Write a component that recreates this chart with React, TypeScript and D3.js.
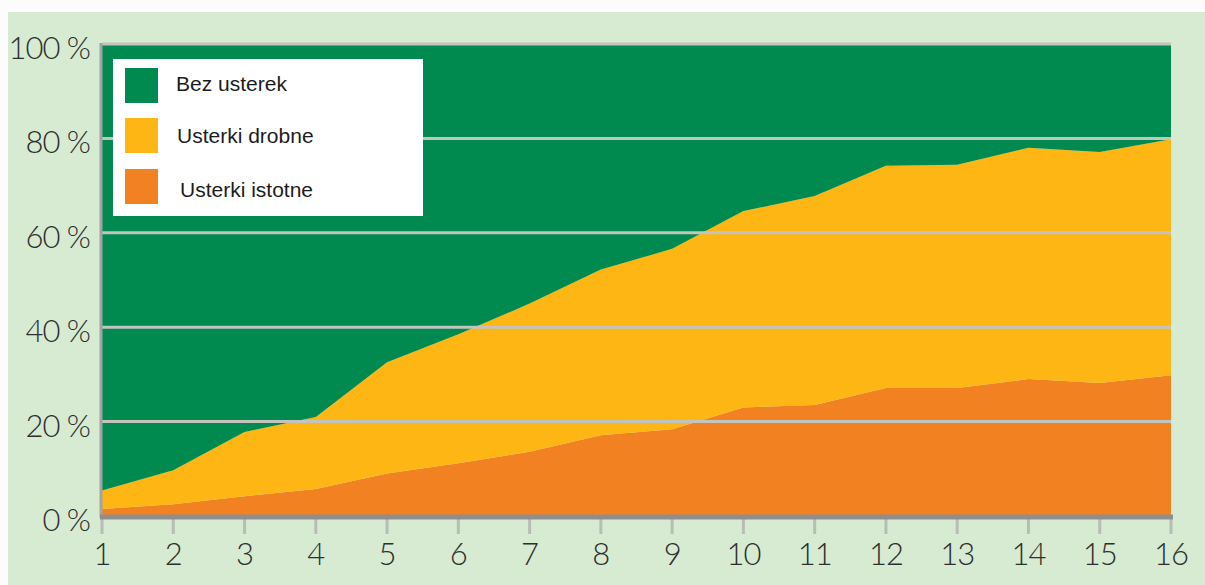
import React from "react";
import * as d3 from "d3";

const categories = [1, 2, 3, 4, 5, 6, 7, 8, 9, 10, 11, 12, 13, 14, 15, 16];
// Usterki istotne (%)
const istotne = [1.5, 2.5, 4.2, 5.7, 9.0, 11.2, 13.6, 17.1, 18.4, 23.0, 23.5, 27.1, 27.1, 29.0, 28.2, 29.8];
// Usterki drobne (%)
const drobne = [3.9, 7.2, 13.6, 15.3, 23.6, 27.3, 31.4, 35.1, 38.2, 41.6, 44.3, 47.1, 47.3, 49.0, 48.9, 50.0];
// Bez usterek (%)
const bezUsterek = [94.6, 90.3, 82.2, 79.0, 67.4, 61.5, 55.0, 47.8, 43.4, 35.4, 32.2, 25.8, 25.6, 22.0, 22.9, 20.2];
const yTicks = [0, 20, 40, 60, 80, 100];
const seriesNames = ["Usterki istotne", "Usterki drobne", "Bez usterek"];
const colors = ["#f28122", "#fdb614", "#008a4f"];

export default function App() {
  const W = 1205, H = 585;
  const x = d3.scaleLinear().domain([1, 16]).range([102, 1171]);
  const y = d3.scaleLinear().domain([0, 100]).range([516, 44]);

  const rows = categories.map((c, i) => ({
    c,
    "Usterki istotne": istotne[i],
    "Usterki drobne": drobne[i],
    "Bez usterek": bezUsterek[i],
  }));
  const stack = d3.stack<any>().keys(seriesNames);
  const layers = stack(rows);
  const area = d3
    .area<any>()
    .x((d) => x(d.data.c))
    .y0((d) => y(d[0]))
    .y1((d) => y(Math.min(d[1], 100)));

  const fontNum = "Lato, 'Open Sans', sans-serif";
  const legendItems = [
    { name: "Bez usterek", color: colors[2], ty: 91, tx: 176, sy: 68 },
    { name: "Usterki drobne", color: colors[1], ty: 143, tx: 177, sy: 118 },
    { name: "Usterki istotne", color: colors[0], ty: 197, tx: 180, sy: 169 },
  ];

  return (
    <svg
      width={W}
      height={H}
      style={{ position: "absolute", left: 0, top: 0 }}
      viewBox={`0 0 ${W} ${H}`}
    >
      <rect x={0} y={0} width={W} height={H} fill="#fcfcfd" />
      <rect x={8} y={12} width={W - 8} height={H - 12} fill="#d6ebd1" />

      {layers.map((layer, i) => (
        <path key={i} d={area(layer as any) || ""} fill={colors[i]} />
      ))}

      {/* gridlines */}
      {yTicks.filter((t) => t > 0).map((t) => (
        <line
          key={t}
          x1={x(1)}
          x2={x(16)}
          y1={y(t)}
          y2={y(t)}
          stroke="#c4c4bf"
          strokeWidth={3}
        />
      ))}

      {/* left axis */}
      <line x1={x(1) - 1} x2={x(1) - 1} y1={y(100) - 1} y2={y(0) + 2} stroke="#a3a3a3" strokeWidth={3} />
      {/* x ticks */}
      {categories.map((c) => (
        <line key={c} x1={x(c)} x2={x(c)} y1={y(0)} y2={y(0) + 18} stroke="#b9bdb7" strokeWidth={3} />
      ))}
      {/* bottom axis */}
      <line x1={x(1) - 2} x2={x(16) + 2} y1={y(0) + 1} y2={y(0) + 1} stroke="#8e8e8e" strokeWidth={5} />

      {/* x labels */}
      {categories.map((c) => (
        <text
          key={c}
          x={x(c)}
          y={565}
          textAnchor="middle"
          fontFamily={fontNum}
          fontWeight={300}
          fontSize={31}
          fill="#2e2e2e"
          letterSpacing={-1}
        >
          {c}
        </text>
      ))}

      {/* y labels */}
      {yTicks.map((t) => (
        <text
          key={t}
          x={90}
          y={y(t) + 3}
          textAnchor="end"
          dominantBaseline="central"
          fontFamily={fontNum}
          fontWeight={300}
          fontSize={31}
          fill="#2e2e2e"
          letterSpacing={-1}
        >
          {`${t} %`}
        </text>
      ))}

      {/* legend */}
      <rect x={113} y={59} width={310} height={157} fill="#ffffff" />
      {legendItems.map((it) => (
        <g key={it.name}>
          <rect x={125} y={it.sy} width={33} height={35} fill={it.color} />
          <text
            x={it.tx}
            y={it.ty}
            fontFamily="'Liberation Sans', Arial, sans-serif"
            fontSize={21}
            fill="#1c1c1c"
          >
            {it.name}
          </text>
        </g>
      ))}
    </svg>
  );
}
